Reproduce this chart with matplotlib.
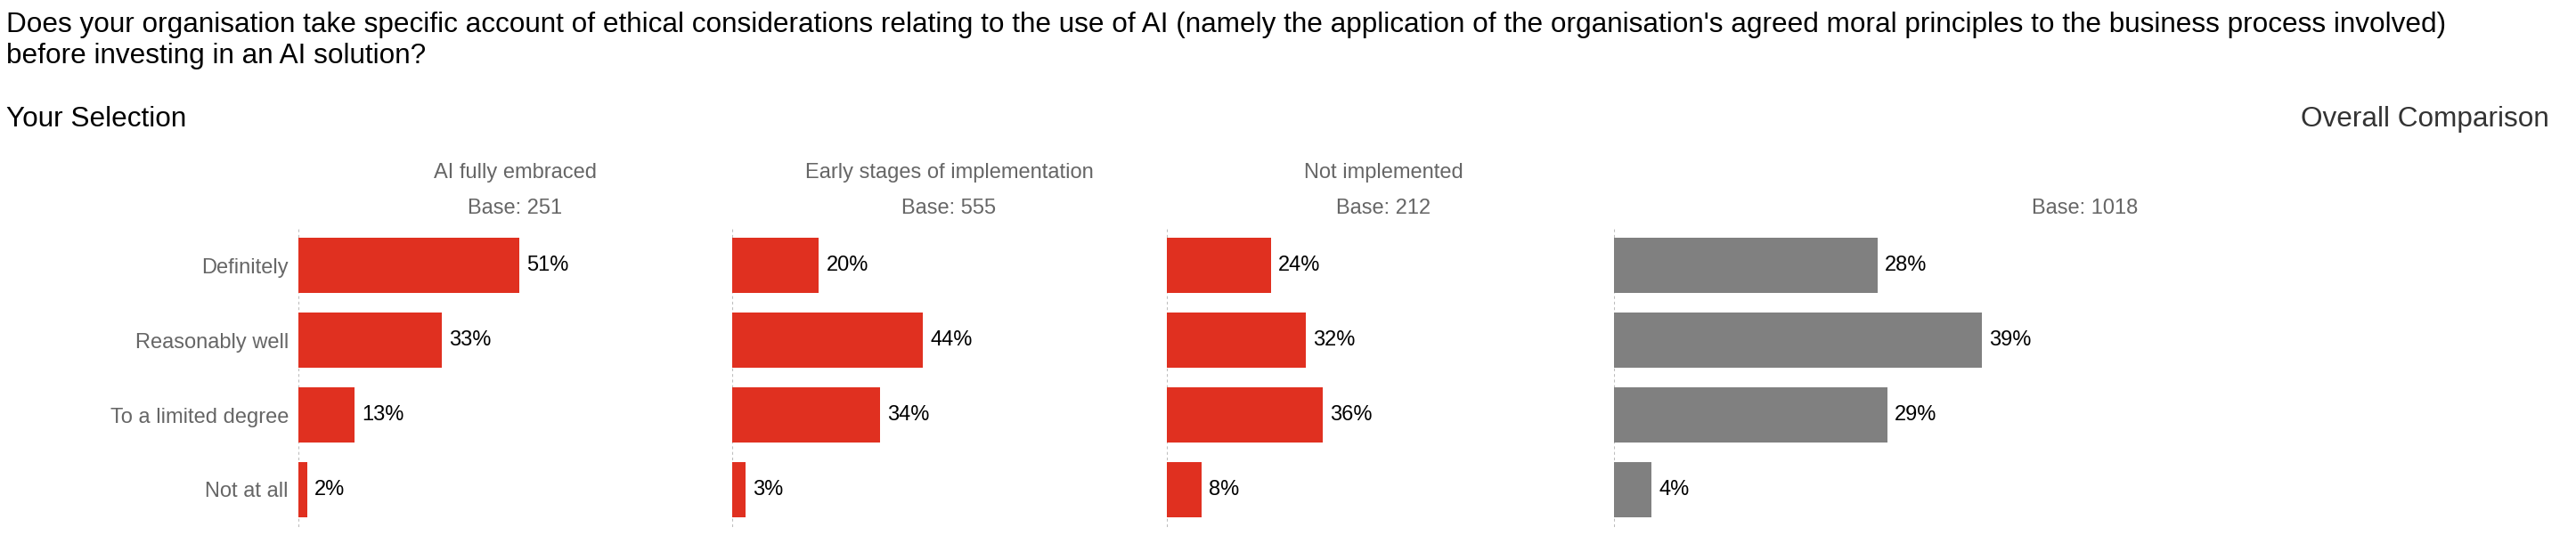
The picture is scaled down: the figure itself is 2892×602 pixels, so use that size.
import numpy as np
import matplotlib.pyplot as plt

plt.rcParams['font.family'] = ['Liberation Sans', 'DejaVu Sans']

# data
categories = ["Definitely", "Reasonably well", "To a limited degree", "Not at all"]
groups = ["AI fully embraced", "Early stages of implementation", "Not implemented"]
bases = [251, 555, 212]
fully_embraced = [51, 33, 13, 2]
early_stages = [20, 44, 34, 3]
not_implemented = [24, 32, 36, 8]
overall = [28, 39, 29, 4]
overall_base = 1018

title_lines = ["Does your organisation take specific account of ethical considerations relating to the use of AI "
               "(namely the application of the organisation's agreed moral principles to the business process involved)",
               "before investing in an AI solution?"]

W, H = 2892, 602
fig = plt.figure(figsize=(W / 100, H / 100), dpi=100)

RED = '#E03020'
GREY = '#808080'
LABEL = '#666666'


def px_axes(left, width, top=256, bottom=592):
    return fig.add_axes([left / W, 1 - bottom / H, width / W, (bottom - top) / H])


def draw_panel(ax, values, color, header=None, base=None):
    y = np.arange(len(categories))
    ax.barh(y, values, height=0.74, color=color)
    ax.set_xlim(0, 100)
    ax.set_ylim(len(categories) - 0.5, -0.5)
    ax.axvline(0, color='#bdbdbd', lw=1.5, ls=(0, (1.5, 1.5)), zorder=0)
    for yi, v in zip(y, values):
        ax.annotate(f"{v}%", (v, yi), xytext=(5.8, 0), textcoords='offset points',
                    va='center', ha='left', fontsize=17, color='black')
    for s in ax.spines.values():
        s.set_visible(False)
    ax.set_xticks([])
    ax.tick_params(axis='y', length=0, pad=8, labelsize=17, labelcolor=LABEL)
    ax.set_yticks(y)
    ax.set_yticklabels([])
    if header:
        ax.text(0.5, 1.185, header, transform=ax.transAxes, ha='center', va='center',
                fontsize=17, color=LABEL)
    ax.text(0.5, 1.065, f"Base: {base}", transform=ax.transAxes, ha='center', va='center',
            fontsize=17, color=LABEL)


series = [fully_embraced, early_stages, not_implemented]
lefts = [335, 822, 1310]
for i, (vals, grp, b) in enumerate(zip(series, groups, bases)):
    ax = px_axes(lefts[i], 487)
    draw_panel(ax, vals, RED, grp, b)
    if i == 0:
        ax.set_yticklabels(categories)

ax4 = px_axes(1812, 1058)
draw_panel(ax4, overall, GREY, None, overall_base)

for line, base_y in zip(title_lines, [36, 71]):
    fig.text(7 / W, 1 - base_y / H, line, ha='left', va='baseline', fontsize=22.7, color='black')
fig.text(7 / W, 1 - 142 / H, "Your Selection", ha='left', va='baseline', fontsize=22.7, color='black')
fig.text(2862 / W, 1 - 142 / H, "Overall Comparison", ha='right', va='baseline', fontsize=22.7, color='#333333')

fig.savefig('out.png', dpi=100, facecolor='white')
